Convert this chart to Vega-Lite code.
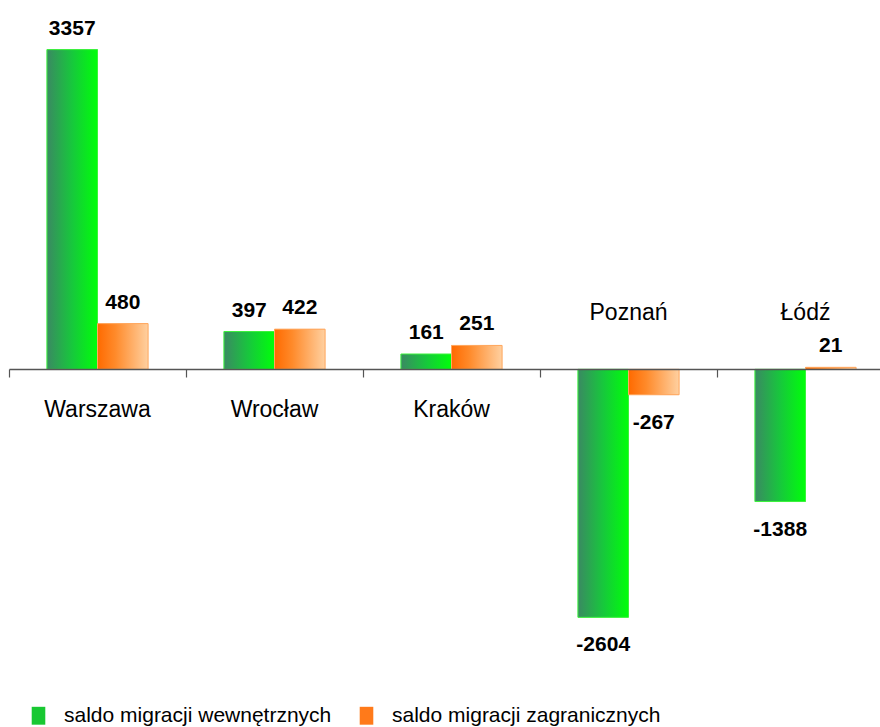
{
  "$schema": "https://vega.github.io/schema/vega-lite/v6.json",
  "autosize": "none",
  "width": 871,
  "height": 600,
  "padding": {"left": 9, "top": 36, "right": 0, "bottom": 91},
  "background": "white",
  "config": {"view": {"stroke": null}, "font": "Liberation Sans"},
  "data": {
    "values": [
      {"miasto": "Warszawa", "seria": "saldo migracji wewnętrznych", "wartosc": 3357},
      {"miasto": "Warszawa", "seria": "saldo migracji zagranicznych", "wartosc": 480},
      {"miasto": "Wrocław", "seria": "saldo migracji wewnętrznych", "wartosc": 397},
      {"miasto": "Wrocław", "seria": "saldo migracji zagranicznych", "wartosc": 422},
      {"miasto": "Kraków", "seria": "saldo migracji wewnętrznych", "wartosc": 161},
      {"miasto": "Kraków", "seria": "saldo migracji zagranicznych", "wartosc": 251},
      {"miasto": "Poznań", "seria": "saldo migracji wewnętrznych", "wartosc": -2604},
      {"miasto": "Poznań", "seria": "saldo migracji zagranicznych", "wartosc": -267},
      {"miasto": "Łódź", "seria": "saldo migracji wewnętrznych", "wartosc": -1388},
      {"miasto": "Łódź", "seria": "saldo migracji zagranicznych", "wartosc": 21}
    ]
  },
  "encoding": {
    "x": {
      "field": "miasto", "type": "nominal",
      "sort": ["Warszawa", "Wrocław", "Kraków", "Poznań", "Łódź"],
      "scale": {"range": [0, 885], "paddingInner": 0, "paddingOuter": 0},
      "axis": {"title": null, "labels": false, "domain": true, "domainColor": "#555555", "domainWidth": 1.5, "ticks": true, "tickColor": "#555555", "tickWidth": 1.2, "tickSize": 8, "tickBand": "extent", "offset": -267, "zindex": 1}
    },
    "y": {
      "field": "wartosc", "type": "quantitative",
      "scale": {"domain": [-2800, 3500], "nice": false, "zero": true},
      "axis": null
    }
  },
  "layer": [
    {
      "mark": {"type": "bar"},
      "encoding": {
        "xOffset": {"field": "seria", "type": "nominal", "sort": ["saldo migracji wewnętrznych", "saldo migracji zagranicznych"], "scale": {"paddingInner": 0, "paddingOuter": 0.75}},
        "color": {
          "field": "seria", "type": "nominal",
          "scale": {"domain": ["saldo migracji wewnętrznych", "saldo migracji zagranicznych"], "range": ["#18c832", "#ff7a1a"]},
          "legend": {
            "title": null, "orient": "none", "legendX": 19, "legendY": 669, "direction": "horizontal",
            "symbolType": "M-0.76,-1H0.76V1H-0.76Z", "symbolSize": 320, "symbolStrokeWidth": 0,
            "labelFontSize": 21, "labelColor": "#000000", "labelFont": "Liberation Sans", "labelOffset": 15, "labelLimit": 0,
            "columnPadding": 24, "padding": 0, "offset": 0
          }
        }
      }
    },
    {
      "transform": [{"filter": "datum.seria === 'saldo migracji wewnętrznych'"}],
      "mark": {
        "type": "bar", "stroke": "#3cf23c", "strokeWidth": 1,
        "fill": {"gradient": "linear", "x1": 0, "y1": 0, "x2": 1, "y2": 0, "stops": [{"offset": 0, "color": "#3a8a62"}, {"offset": 0.5, "color": "#17c83c"}, {"offset": 1, "color": "#00ff0a"}]}
      },
      "encoding": {
        "xOffset": {"field": "seria", "type": "nominal", "sort": ["saldo migracji wewnętrznych", "saldo migracji zagranicznych"]}
      }
    },
    {
      "transform": [{"filter": "datum.seria === 'saldo migracji zagranicznych'"}],
      "mark": {
        "type": "bar", "stroke": "#ffa860", "strokeWidth": 1,
        "fill": {"gradient": "linear", "x1": 0, "y1": 0, "x2": 1, "y2": 0, "stops": [{"offset": 0, "color": "#ff6a00"}, {"offset": 0.35, "color": "#ff8a2a"}, {"offset": 1, "color": "#ffd0a0"}]}
      },
      "encoding": {
        "xOffset": {"field": "seria", "type": "nominal", "sort": ["saldo migracji wewnętrznych", "saldo migracji zagranicznych"]}
      }
    },
    {
      "transform": [{"filter": "datum.wartosc >= 0"}],
      "mark": {"type": "text", "baseline": "alphabetic", "dy": -15, "fontSize": 21, "fontWeight": "bold", "color": "#000000"},
      "encoding": {
        "xOffset": {"field": "seria", "type": "nominal", "sort": ["saldo migracji wewnętrznych", "saldo migracji zagranicznych"]},
        "text": {"field": "wartosc", "type": "nominal"}
      }
    },
    {
      "transform": [{"filter": "datum.wartosc < 0"}],
      "mark": {"type": "text", "baseline": "top", "dy": 17, "fontSize": 21, "fontWeight": "bold", "color": "#000000"},
      "encoding": {
        "xOffset": {"field": "seria", "type": "nominal", "sort": ["saldo migracji wewnętrznych", "saldo migracji zagranicznych"]},
        "text": {"field": "wartosc", "type": "nominal"}
      }
    },
    {
      "transform": [{"filter": "datum.seria === 'saldo migracji wewnętrznych' && datum.wartosc >= 0"}],
      "mark": {"type": "text", "baseline": "middle", "dy": 41, "fontSize": 23, "color": "#000000"},
      "encoding": {
        "y": {"datum": 0},
        "text": {"field": "miasto", "type": "nominal"}
      }
    },
    {
      "transform": [{"filter": "datum.seria === 'saldo migracji wewnętrznych' && datum.wartosc < 0"}],
      "mark": {"type": "text", "baseline": "middle", "dy": -56, "fontSize": 23, "color": "#000000"},
      "encoding": {
        "y": {"datum": 0},
        "text": {"field": "miasto", "type": "nominal"}
      }
    }
  ]
}
